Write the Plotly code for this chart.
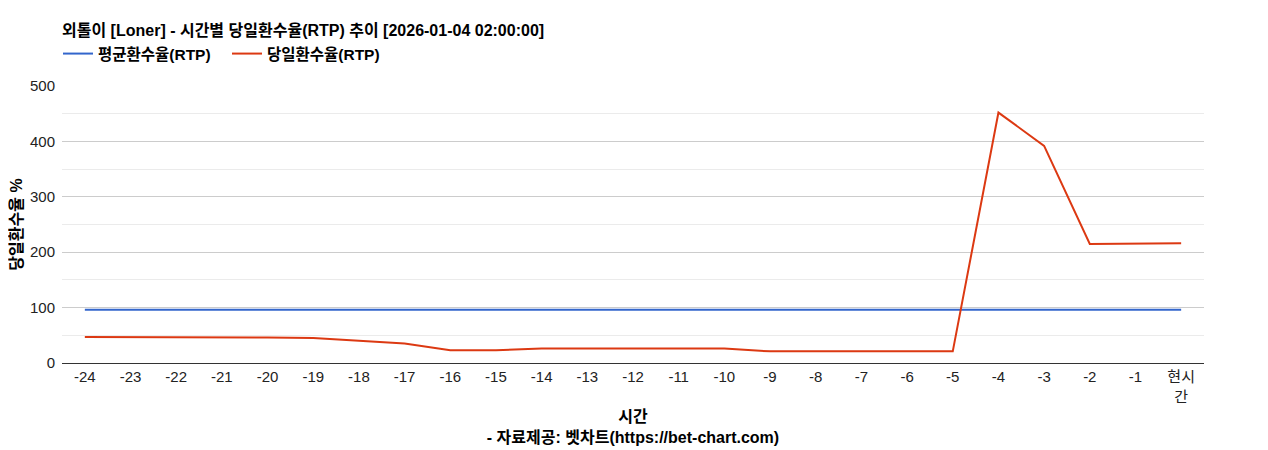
import plotly.graph_objects as go

# hours before now; last slot is "현시간" (now)
hours = ["-24", "-23", "-22", "-21", "-20", "-19", "-18", "-17", "-16", "-15",
         "-14", "-13", "-12", "-11", "-10", "-9", "-8", "-7", "-6", "-5",
         "-4", "-3", "-2", "-1", "현시간"]
hour_labels = hours[:-1] + ["현시<br>간"]

avg_rtp = [96] * 25
daily_rtp = [47, 47, 46, 46, 46, 45, 40, 35, 23, 23,
             26, 26, 26, 26, 26, 21, 21, 21, 21, 21,
             452, 392, 215, 215, 216]

FONT = "Arial, 'Liberation Sans', 'Noto Sans CJK KR', sans-serif"

fig = go.Figure()
fig.add_trace(go.Scatter(x=hours, y=avg_rtp, mode="lines", name="<b>평균환수율(RTP)</b>",
                         line=dict(color="#3366cc", width=2)))
fig.add_trace(go.Scatter(x=hours, y=daily_rtp, mode="lines", name="<b>당일환수율(RTP)</b>",
                         line=dict(color="#dc3912", width=2)))

# page body adds an 8px offset, so margins are trimmed on the left/top
fig.update_layout(
    width=1268, height=450,
    margin=dict(l=54, r=72, t=78, b=95, autoexpand=False),
    paper_bgcolor="white", plot_bgcolor="white",
    font=dict(family=FONT, size=15, color="#222222"),
    title=dict(text="<b>외톨이 [Loner] - 시간별 당일환수율(RTP) 추이 [2026-01-04 02:00:00]</b>",
               xref="container", yref="container", x=54 / 1268, xanchor="left",
               y=1 - 22 / 450, yanchor="middle",
               font=dict(size=16, color="#000000")),
    legend=dict(orientation="h", xref="container", yref="container",
                x=50 / 1268, xanchor="left", y=1 - 46 / 450, yanchor="middle",
                font=dict(size=15.5, color="#000000"), traceorder="normal",
                entrywidth=124, entrywidthmode="pixels"),
    showlegend=True,
    hovermode="x",
)

fig.update_xaxes(
    type="category", tickmode="array", tickvals=hours, ticktext=hour_labels,
    range=[-0.5, 24.5], showgrid=False, showline=True, linecolor="#333333",
    ticks="", tickfont=dict(size=15, color="#222222"), automargin=False,
    title=dict(text="<b>시간</b><br><b>- 자료제공: 벳차트(https://bet-chart.com)</b>",
               font=dict(size=16, color="#000000"), standoff=7),
)
fig.update_yaxes(
    range=[0, 500], tickvals=[0, 100, 200, 300, 400, 500],
    showgrid=True, gridcolor="#cccccc", gridwidth=1,
    minor=dict(tickvals=[50, 150, 250, 350, 450], showgrid=True,
               gridcolor="#ebebeb", gridwidth=1),
    zeroline=False, ticks="", tickfont=dict(size=15, color="#222222"),
    ticklabelstandoff=6, automargin=False,
    title=dict(text="<b>당일환수율 %</b>", font=dict(size=16, color="#000000"),
               standoff=4),
)

fig.write_html("out.html")
